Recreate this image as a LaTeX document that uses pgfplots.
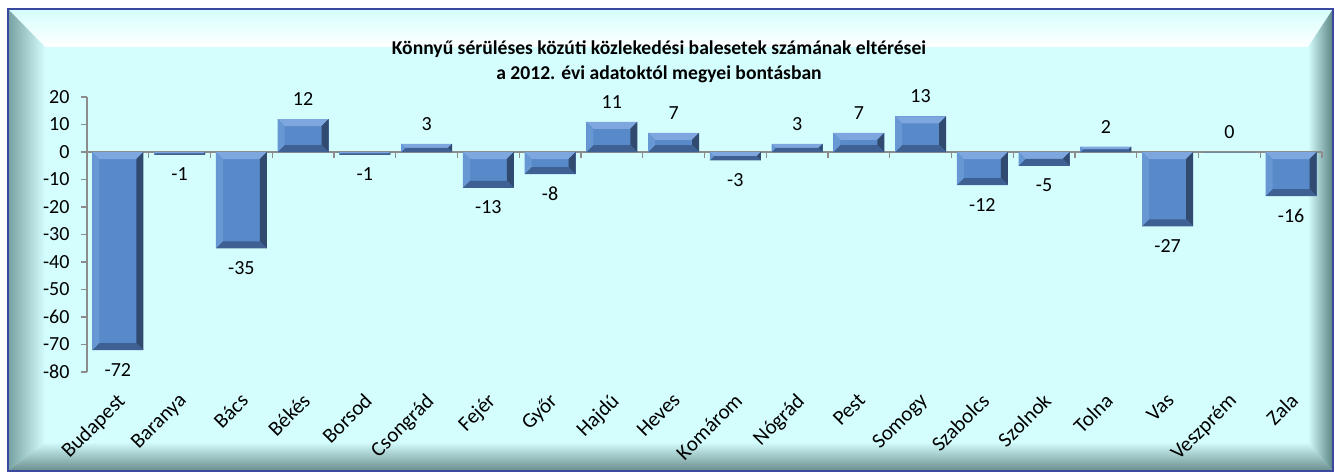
\documentclass[border=0pt]{standalone}
\usepackage{pgfplots}
\pgfplotsset{compat=1.18}
\usepackage{fontspec}
\setmainfont{Carlito}
\definecolor{bgc}{RGB}{212,253,253}
\definecolor{framec}{RGB}{58,72,160}
\definecolor{axc}{RGB}{140,140,140}
\definecolor{barc}{RGB}{88,137,201}
\definecolor{bartop}{RGB}{125,167,222}
\definecolor{barleft}{RGB}{104,152,212}
\definecolor{barright}{RGB}{48,74,112}
\definecolor{barbot}{RGB}{62,96,146}
\pgfplotstableread{
x name val
0 Budapest -72
1 Baranya -1
2 Bács -35
3 Békés 12
4 Borsod -1
5 Csongrád 3
6 Fejér -13
7 Győr -8
8 Hajdú 11
9 Heves 7
10 Komárom -3
11 Nógrád 3
12 Pest 7
13 Somogy 13
14 Szabolcs -12
15 Szolnok -5
16 Tolna 2
17 Vas -27
18 Veszprém 0
19 Zala -16
}\datatable
\newcommand\quadfill[5]{%
  \pgfsetfillcolor{#1}%
  \pgfpathmoveto{#2}\pgfpathlineto{#3}\pgfpathlineto{#4}\pgfpathlineto{#5}\pgfpathclose
  \pgfusepath{fill}}
\newcommand\bevelall{%
  \pgfpointanchor{path picture bounding box}{south west}\pgfgetlastxy\xa\ya
  \pgfpointanchor{path picture bounding box}{north east}\pgfgetlastxy\xb\yb
  \pgfmathsetlengthmacro\bw{min(7pt,(\yb-\ya)/2.01,(\xb-\xa)/2.01)}%
  \quadfill{bartop}{\pgfpoint{\xa}{\yb}}{\pgfpoint{\xb}{\yb}}{\pgfpoint{\xb-\bw}{\yb-\bw}}{\pgfpoint{\xa+\bw}{\yb-\bw}}%
  \quadfill{barright}{\pgfpoint{\xb}{\yb}}{\pgfpoint{\xb}{\ya}}{\pgfpoint{\xb-\bw}{\ya+\bw}}{\pgfpoint{\xb-\bw}{\yb-\bw}}%
  \quadfill{barbot}{\pgfpoint{\xa}{\ya}}{\pgfpoint{\xb}{\ya}}{\pgfpoint{\xb-\bw}{\ya+\bw}}{\pgfpoint{\xa+\bw}{\ya+\bw}}%
  \quadfill{barleft}{\pgfpoint{\xa}{\ya}}{\pgfpoint{\xa}{\yb}}{\pgfpoint{\xa+\bw}{\yb-\bw}}{\pgfpoint{\xa+\bw}{\ya+\bw}}%
}
\begin{document}
\begin{tikzpicture}[x=1pt,y=1pt]
\useasboundingbox (0,0) rectangle (1335,472);
% frame
\fill[bgc] (8,1) rectangle (1333,463);
\shade[top color=bgc, bottom color=white] (8,463) -- (1333,463) -- (1308,425) -- (45,425) -- cycle;
\shade[left color={rgb,255:red,120;green,160;blue,160}, right color=bgc] (8,463) -- (45,425) -- (45,30) -- (8,1) -- cycle;
\shade[left color=bgc, right color={rgb,255:red,90;green,130;blue,130}] (1333,463) -- (1308,425) -- (1308,30) -- (1333,1) -- cycle;
\shade[top color=bgc, bottom color={rgb,255:red,105;green,140;blue,140}] (8,1) -- (45,30) -- (1308,30) -- (1333,1) -- cycle;
\draw[framec, line width=1.5] (8,1) rectangle (1333,463);
% title
\node[font=\fontsize{19.6}{25}\selectfont\bfseries, align=center] at (659,410) {Könnyű sérüléses közúti közlekedési balesetek számának eltérései\\a 2012. évi adatoktól megyei bontásban};
\begin{axis}[
  at={(87pt,100pt)}, anchor=south west,
  scale only axis, width=1235pt, height=275pt,
  xmin=-0.5, xmax=19.5, ymin=-80, ymax=20,
  axis y line*=left, axis x line*=bottom,
  x axis line style={draw=none},
  y axis line style={axc, line width=1.2pt},
  ytick={-80,-70,...,20},
  tick align=outside, major tick length=6pt,
  ytick style={axc, line width=1.2pt},
  xtick style={draw=none},
  xtick={0,...,19}, xticklabels from table={\datatable}{name},
  ticklabel style={font=\fontsize{20}{24}\selectfont},
  xticklabel style={xshift=-2pt, yshift=-9pt, rotate=45, anchor=north east, font=\fontsize{21}{24}\selectfont},
  /pgf/number format/assume math mode=true,
  yticklabel style={xshift=-8pt},
  clip=false,
]
\draw[axc, line width=1.2pt] (axis cs:-0.5,0) -- (axis cs:19.5,0);
\pgfplotsinvokeforeach{0,...,20}{\draw[axc, line width=1.2pt] (axis cs:#1-0.5,0) -- ([yshift=-6pt]axis cs:#1-0.5,0);}
\pgfplotsinvokeforeach{0,...,19}{%
\addplot[ybar, bar width=51pt, bar shift=0pt, fill=barc, draw=none,
  x filter/.expression={abs(x-#1)<0.1 ? x : nan},
  postaction={path picture={\bevelall}}] table[x=x, y=val] {\datatable};
}
\addplot[draw=none, mark=none, nodes near coords, nodes near coords align={vertical},
  nodes near coords style={font=\fontsize{20}{24}\selectfont, /pgf/number format/assume math mode=true, inner xsep=2pt, inner ysep=13pt}]
  table[x=x, y=val] {\datatable};
\end{axis}
\end{tikzpicture}
\end{document}
